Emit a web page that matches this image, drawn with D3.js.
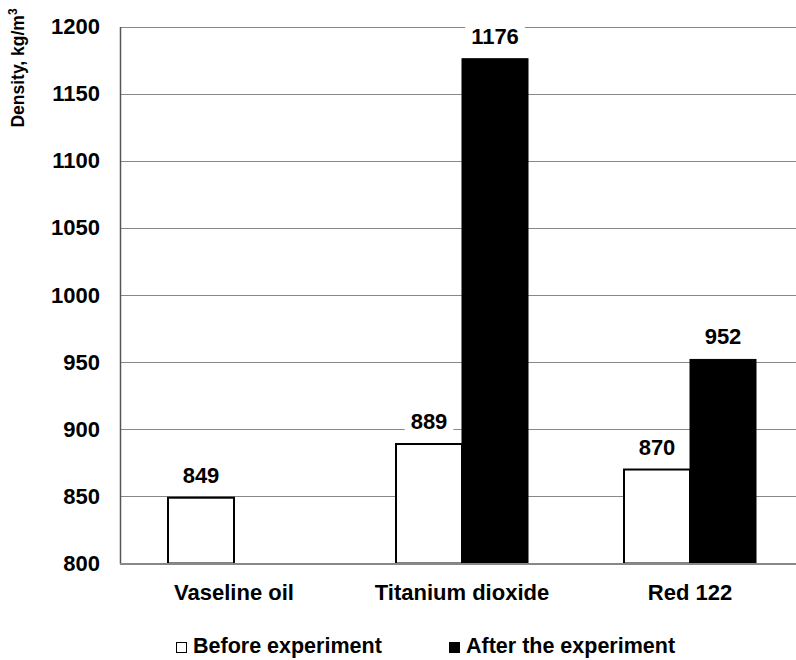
<!DOCTYPE html>
<html><head><meta charset="utf-8">
<script src="https://cdn.jsdelivr.net/npm/d3@7"></script>
<style>body{margin:0;background:#fff}svg{display:block;font-family:"Liberation Sans",Arial,sans-serif;font-weight:bold}</style>
</head><body>
<svg id="chart" width="796" height="660"></svg>
<script>
const categories = ["Vaseline oil", "Titanium dioxide", "Red 122"];
const seriesNames = ["Before experiment", "After the experiment"];
const beforeValues = [849, 889, 870];
const afterValues = [null, 1176, 952];
const yTicks = [800, 850, 900, 950, 1000, 1050, 1100, 1150, 1200];

(function () {
const svg = d3.select("#chart");
const pLeft = 120, pRight = 804, pTop = 26.5, pBottom = 563.5;
const y = d3.scaleLinear().domain([800, 1200]).range([pBottom, pTop]);
const x0 = d3.scaleBand().domain(categories).range([pLeft, pRight]).padding(0);
const x1 = d3.scaleBand().domain(seriesNames).range([48, 180]).padding(0);
const fills = ["#fff", "#000"];

// gridlines
svg.append("g").selectAll("line").data(yTicks.filter(t => t > 800)).join("line")
  .attr("x1", pLeft).attr("x2", pRight)
  .attr("y1", d => Math.round(y(d)) + 0.5).attr("y2", d => Math.round(y(d)) + 0.5)
  .attr("stroke", "#888").attr("stroke-width", 1);

// y axis
const yAxis = d3.axisLeft(y).tickValues(yTicks).tickFormat(d3.format("d")).tickSize(0).tickPadding(20);
const ga = svg.append("g").attr("transform", `translate(${pLeft},0)`).call(yAxis);
ga.select(".domain").attr("stroke", "#555").attr("stroke-width", 1.5);
ga.selectAll("text").attr("font-size", 22).attr("font-weight", "bold")
  .attr("font-family", "Liberation Sans, Arial, sans-serif").attr("fill", "#000");

const data = categories.map((c, i) => ({cat: c, vals: [beforeValues[i], afterValues[i]]}));
const groups = svg.append("g").selectAll("g").data(data).join("g")
  .attr("transform", d => `translate(${x0(d.cat)},0)`);

const items = groups.selectAll("g.bar").data(d => d.vals.map((v, j) => ({v, s: seriesNames[j], j})).filter(e => e.v != null))
  .join("g").attr("class", "bar");
items.append("rect")
  .attr("x", d => x1(d.s)).attr("width", x1.bandwidth())
  .attr("y", d => y(d.v)).attr("height", d => y(800) - y(d.v))
  .attr("fill", d => fills[d.j]).attr("stroke", "#000").attr("stroke-width", d => d.j === 0 ? 2 : 1);

// labels with white background
items.each(function(d) {
  const g = d3.select(this);
  const cx = x1(d.s) + x1.bandwidth() / 2;
  const by = y(d.v) - 15;
  const bg = g.append("rect").attr("fill", "#fff");
  const t = g.append("text").attr("x", cx).attr("y", by).attr("text-anchor", "middle")
    .attr("font-size", 22).attr("fill", "#000").text(d.v);
  const bb = t.node().getBBox();
  bg.attr("x", bb.x - 6).attr("y", bb.y - 2).attr("width", bb.width + 12).attr("height", bb.height + 2);
});

// bottom axis line
svg.append("line").attr("x1", pLeft).attr("x2", pRight).attr("y1", pBottom + 0.5).attr("y2", pBottom + 0.5)
  .attr("stroke", "#888").attr("stroke-width", 2);

// x labels
svg.append("g").selectAll("text").data(categories).join("text")
  .attr("x", d => x0(d) + x0.bandwidth() / 2).attr("y", 600)
  .attr("text-anchor", "middle").attr("font-size", 22).attr("fill", "#000").text(d => d);

// y title
const yt = svg.append("text").attr("transform", "translate(24,68) rotate(-90)")
  .attr("text-anchor", "middle").attr("font-size", 17.5).attr("fill", "#000");
yt.append("tspan").text("Density, kg/m");
yt.append("tspan").attr("font-size", 12).attr("dy", -7).text("3");

// legend
const legX = [176, 449];
const leg = svg.append("g").selectAll("g").data(seriesNames).join("g")
  .attr("transform", (d, i) => `translate(${legX[i]},642)`);
leg.append("rect").attr("x", 0.5).attr("y", 0.5).attr("width", 10).attr("height", 10)
  .attr("fill", (d, i) => fills[i]).attr("stroke", "#000").attr("stroke-width", 1);
leg.append("text").attr("x", 17).attr("y", 11).attr("font-size", 21.5).attr("fill", "#000").text(d => d);
})();
</script>
</body></html>
